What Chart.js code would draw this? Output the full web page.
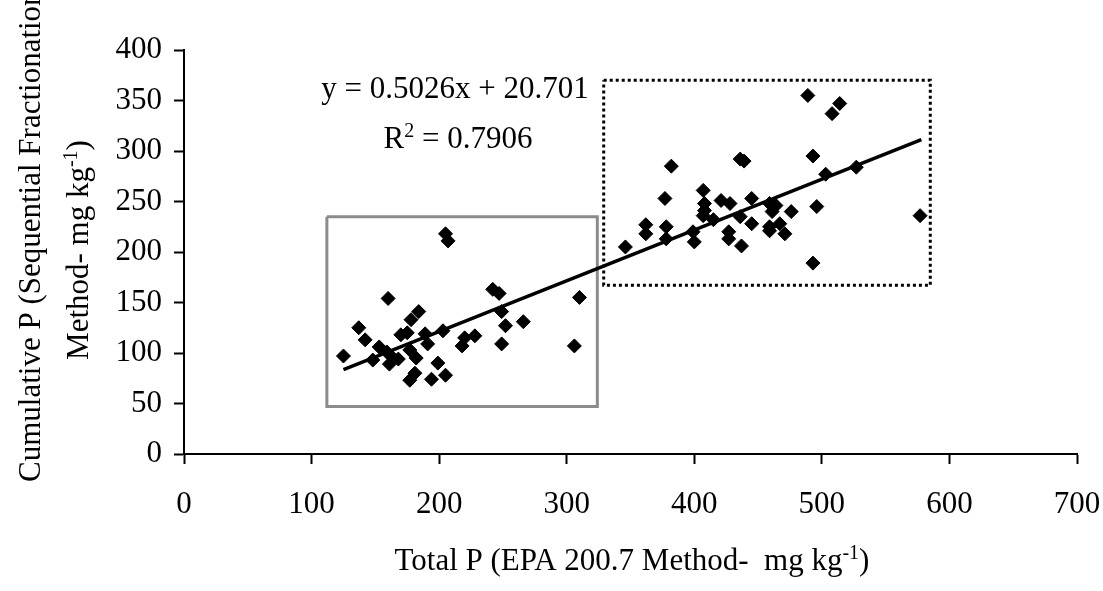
<!DOCTYPE html>
<html>
<head>
<meta charset="utf-8">
<script src="https://cdn.jsdelivr.net/npm/chart.js@4"></script>
<style>
  html, body { margin: 0; padding: 0; background: #fff; }
  #wrap { width: 1103px; height: 591px; }
</style>
</head>
<body>
<div id="wrap"><canvas id="scatterChart" width="1103" height="591"></canvas></div>
<script>
// data
const totalP = [125, 137, 142, 148, 153, 160, 159, 163, 161, 168, 170, 175, 177, 178, 184, 182, 181, 177, 189, 191,
                194, 199, 203, 205, 205, 207, 218, 220, 228, 242, 247, 249, 252, 249, 266, 306, 310,
                346, 362, 362, 377, 382, 378, 378, 399, 400, 407, 408, 408, 407, 415, 421, 428, 427, 427, 436,
                437, 436, 439, 445, 445, 459, 461, 459, 459, 464, 467, 471, 476, 489, 493, 496, 493, 503, 508,
                514, 527, 577];
const cumulativeP = [97, 125, 113, 93, 106, 154, 101, 96, 89, 94, 118, 120, 103, 133, 141, 95, 80, 73, 119, 109,
                     74, 90, 122, 78, 218, 211, 107, 115, 117, 163, 159, 141, 127, 109, 131, 107, 155,
                     205, 227, 218, 253, 285, 225, 213, 220, 210, 261, 248, 241, 236, 232, 251, 248, 220, 213, 235,
                     206, 292, 290, 253, 228, 248, 240, 225, 221, 246, 228, 218, 240, 355, 295, 245, 189, 277, 337,
                     347, 284, 236];

// trend line y = 0.5026x + 20.701 (end points)
const trendX = [125, 578];
const trendY = [83.5, 311.2];

// highlight boxes
const lowBoxX = [112, 324, 324, 112, 112];
const lowBoxY = [235, 235, 47, 47, 235];
const highBoxX = [329, 585, 585, 329, 329];
const highBoxY = [370, 370, 167, 167, 370];

const xTicks = [0, 100, 200, 300, 400, 500, 600, 700];
const yTicks = [0, 50, 100, 150, 200, 250, 300, 350, 400];

const FONT = "'Liberation Serif', 'Times New Roman', serif";
const FS = 31;

const toXY = (xs, ys) => xs.map((x, i) => ({ x: x, y: ys[i] }));

// draw a run of text pieces, some of them superscript
function drawRuns(ctx, runs, x, y, align) {
    const sup = Math.round(FS * 0.65);
    let total = 0;
    runs.forEach(r => {
        ctx.font = (r.sup ? sup : FS) + "px " + FONT;
        r.w = ctx.measureText(r.t).width;
        total += r.w;
    });
    let cx = align === "center" ? x - total / 2 : x;
    runs.forEach(r => {
        ctx.font = (r.sup ? sup : FS) + "px " + FONT;
        ctx.fillText(r.t, cx, r.sup ? y - FS * 0.36 : y);
        cx += r.w;
    });
}

const textPlugin = {
    id: "texts",
    afterDraw(chart) {
        const ctx = chart.ctx;
        ctx.save();
        ctx.fillStyle = "#000";
        ctx.textAlign = "left";
        ctx.textBaseline = "alphabetic";

        // equation
        drawRuns(ctx, [{ t: "y = 0.5026x + 20.701" }], 455, 98, "center");
        drawRuns(ctx, [{ t: "R" }, { t: "2", sup: true }, { t: " = 0.7906" }], 458, 148, "center");

        // x axis title
        drawRuns(ctx, [{ t: "Total P (EPA 200.7 Method-  mg kg" }, { t: "-1", sup: true }, { t: ")" }], 632, 570, "center");

        // y axis title, two lines
        ctx.save();
        ctx.translate(40, 482);
        ctx.rotate(-Math.PI / 2);
        drawRuns(ctx, [{ t: "Cumulative P (Sequential Fractionation" }], 0, 0, "left");
        ctx.restore();

        ctx.save();
        ctx.translate(88, 250);
        ctx.rotate(-Math.PI / 2);
        drawRuns(ctx, [{ t: "Method- mg kg" }, { t: "-1", sup: true }, { t: ")" }], 0, 0, "center");
        ctx.restore();

        ctx.restore();
    }
};

new Chart(document.getElementById("scatterChart"), {
    type: "scatter",
    data: {
        datasets: [
            {
                label: "Samples",
                data: toXY(totalP, cumulativeP),
                pointStyle: "rectRot",
                pointRadius: 7,
                backgroundColor: "#000",
                borderColor: "#000",
                borderWidth: 1
            },
            {
                label: "Trend",
                data: toXY(trendX, trendY),
                showLine: true,
                pointRadius: 0,
                borderColor: "#000",
                borderWidth: 3.5
            },
            {
                label: "Low",
                data: toXY(lowBoxX, lowBoxY),
                showLine: true,
                pointRadius: 0,
                borderColor: "#8c8c8c",
                borderWidth: 3
            },
            {
                label: "High",
                data: toXY(highBoxX, highBoxY),
                showLine: true,
                pointRadius: 0,
                borderColor: "#000",
                borderWidth: 3,
                borderDash: [3, 3]
            }
        ]
    },
    options: {
        responsive: false,
        animation: false,
        layout: { padding: { top: 50, right: 26, left: 0, bottom: 0 } },
        plugins: {
            legend: { display: false },
            tooltip: { enabled: false }
        },
        scales: {
            x: {
                type: "linear",
                min: 0,
                max: 700,
                afterBuildTicks: s => { s.ticks = xTicks.map(v => ({ value: v })); },
                afterFit: s => { s.height = 137; s.paddingLeft = 0; s.paddingRight = 0; },
                border: { display: true, color: "#000", width: 2 },
                grid: { drawOnChartArea: false, drawTicks: true, tickLength: 10, tickColor: "#000", tickWidth: 2 },
                ticks: { color: "#000", font: { family: FONT, size: FS }, padding: 22, maxRotation: 0 }
            },
            y: {
                type: "linear",
                min: 0,
                max: 400,
                afterBuildTicks: s => { s.ticks = yTicks.map(v => ({ value: v })); },
                afterFit: s => { s.width = 184; s.paddingTop = 0; s.paddingBottom = 0; },
                border: { display: true, color: "#000", width: 2 },
                grid: { drawOnChartArea: false, drawTicks: true, tickLength: 10, tickColor: "#000", tickWidth: 2 },
                ticks: { color: "#000", font: { family: FONT, size: FS }, padding: 12 }
            }
        }
    },
    plugins: [textPlugin]
});
</script>
</body>
</html>
